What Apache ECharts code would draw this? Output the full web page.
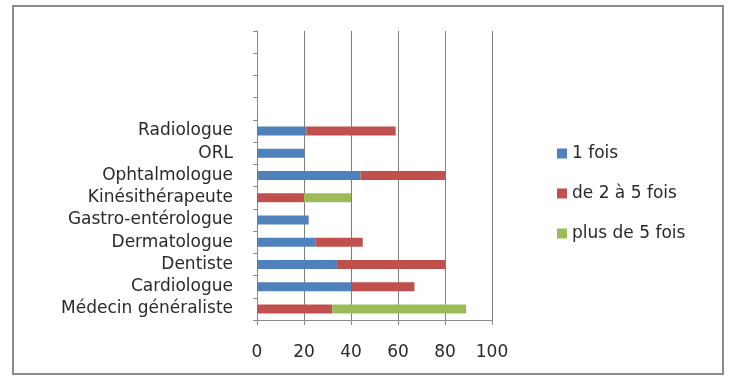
<!DOCTYPE html>
<html>
<head>
<meta charset="utf-8">
<script src="https://cdn.jsdelivr.net/npm/echarts@6/dist/echarts.min.js"></script>
<style>
html,body{margin:0;padding:0;background:#fff;}
#c{width:736px;height:376px;}
</style>
</head>
<body>
<div id="c"></div>
<script>
const categories = ['Médecin généraliste','Cardiologue','Dentiste','Dermatologue','Gastro-entérologue','Kinésithérapeute','Ophtalmologue','ORL','Radiologue','','','',''];
const seriesNames = ['1 fois','de 2 à 5 fois','plus de 5 fois'];
const une = [0, 40, 34, 25, 22, 0, 44, 20, 21, null, null, null, null];
const deuxCinq = [32, 27, 46, 20, 0, 20, 36, 0, 38, null, null, null, null];
const plusCinq = [57, 0, 0, 0, 0, 20, 0, 0, 0, null, null, null, null];
const xTicks = [0, 20, 40, 60, 80, 100];
const colors = ['#4F81BD', '#C0504D', '#9BBB59'];

const font = 'DejaVu Sans';
const chart = echarts.init(document.getElementById('c'));
const mk = (name, data, i) => ({
  name, type: 'bar', stack: 'total', data, barWidth: 9,
  itemStyle: { color: colors[i] }
});
chart.setOption({
  animation: false,
  graphic: [{
    type: 'rect', shape: { x: 13, y: 6, width: 710, height: 368 },
    style: { fill: 'none', stroke: '#8a8a8a', lineWidth: 2 }, silent: true
  }],
  grid: { left: 257, right: 244, top: 31, bottom: 56 },
  legend: {
    orient: 'vertical', left: 552, top: 140, itemWidth: 10, itemHeight: 10,
    itemGap: 23, icon: 'rect',
    textStyle: { fontFamily: font, fontSize: 17, color: '#2a2a2a' },
    data: seriesNames
  },
  xAxis: {
    type: 'value', min: xTicks[0], max: xTicks[xTicks.length - 1], interval: 20,
    axisLine: { show: true, lineStyle: { color: '#8a8a8a' } },
    axisTick: { show: true, length: 5, lineStyle: { color: '#8a8a8a' } },
    splitLine: { show: true, lineStyle: { color: '#7f7f7f', width: 1 } },
    axisLabel: { fontFamily: font, fontSize: 17, color: '#2a2a2a', margin: 24 }
  },
  yAxis: {
    type: 'category', data: categories,
    axisLine: { show: true, lineStyle: { color: '#8a8a8a' } },
    axisTick: { show: true, length: 4, lineStyle: { color: '#8a8a8a' } },
    axisLabel: { fontFamily: font, fontSize: 17, color: '#2a2a2a', margin: 24, interval: 0 }
  },
  series: [mk(seriesNames[0], une, 0), mk(seriesNames[1], deuxCinq, 1), mk(seriesNames[2], plusCinq, 2)]
});
</script>
</body>
</html>
